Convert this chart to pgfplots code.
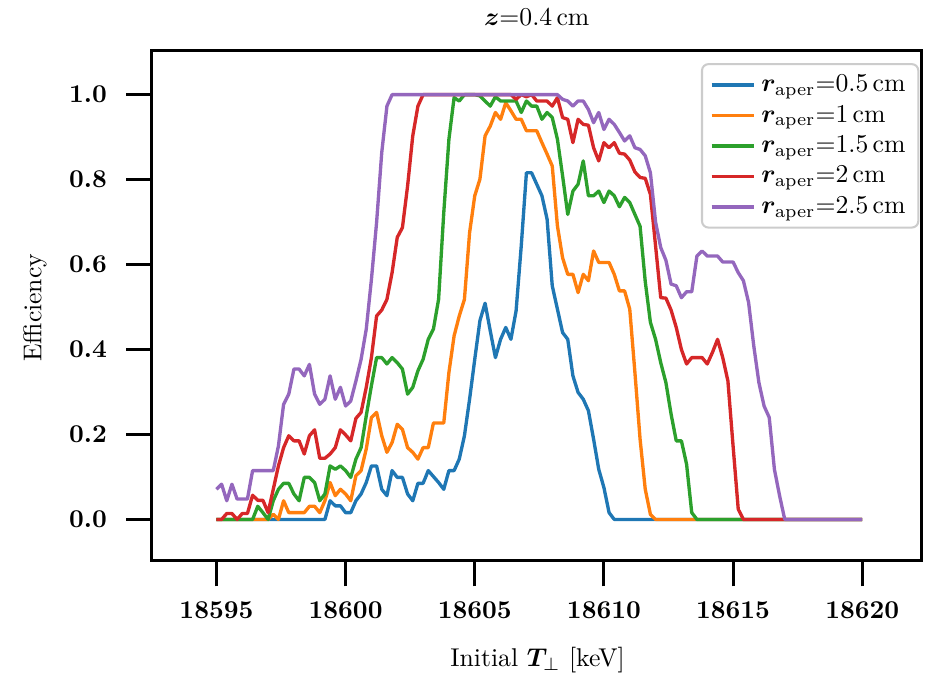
\documentclass[border=0pt]{standalone}
\usepackage{pgfplots}
\pgfplotsset{compat=1.18}
\usepackage{bm}
\definecolor{c0}{HTML}{1F77B4}
\definecolor{c1}{HTML}{FF7F0E}
\definecolor{c2}{HTML}{2CA02C}
\definecolor{c3}{HTML}{D62728}
\definecolor{c4}{HTML}{9467BD}
\begin{document}
\begin{tikzpicture}
\begin{axis}[
  scale only axis, width=299.6pt, height=198.4pt,
  xmin=18592.5, xmax=18622.3, ymin=-0.097, ymax=1.103,
  xtick={18595,18600,18605,18610,18615,18620},
  ytick={0,0.2,0.4,0.6,0.8,1},
  scaled x ticks=false,
  xtick pos=bottom, ytick pos=left,
  tick align=outside, major tick length=10pt,
  tick style={line width=1.2pt, black},
  major tick style={line width=1.2pt, black},
  axis line style={line width=1.2pt},
  ticklabel style={font=\bfseries, /pgf/number format/assume math mode=true},
  x tick label style={/pgf/number format/1000 sep={}, yshift=-2.3pt},
  y tick label style={/pgf/number format/fixed, /pgf/number format/fixed zerofill, /pgf/number format/precision=1, xshift=-4pt},
  title={$\bm{z}$=0.4\,cm},
  title style={at={(axis description cs:0.5,1)}, anchor=base, yshift=3.7pt},
  xlabel={Initial $\bm{T}_{\perp}$ [keV]},
  xlabel style={at={(axis description cs:0.501,-0.196)}, anchor=center},
  ylabel={Efficiency},
  ylabel style={at={(axis description cs:-0.152,0.496)}, anchor=center},
  legend cell align=left,
  legend style={at={(0.997,0.976)}, anchor=north east, draw=black!20, line width=0.8pt,
    rounded corners=2.5pt, fill=white, inner xsep=3pt, inner ysep=2pt, row sep=-0.3pt},
  legend image code/.code={\draw[#1,line width=1.4pt] (0pt,0pt) -- (16.7pt,0pt);},
  every axis plot/.append style={line width=1.3pt, line join=round},
]
\coordinate (bl) at (rel axis cs:0,0);
\addplot[c0] table {
18595.0 0
18599.2 0
18599.4 0.044
18599.6 0.032
18599.8 0.032
18600.0 0.016
18600.2 0.016
18600.4 0.044
18600.6 0.060
18600.8 0.087
18601.0 0.126
18601.2 0.126
18601.4 0.071
18601.6 0.056
18601.8 0.115
18602.0 0.099
18602.2 0.099
18602.4 0.060
18602.6 0.044
18602.8 0.085
18603.0 0.085
18603.2 0.115
18603.4 0.101
18603.6 0.087
18603.8 0.071
18604.0 0.115
18604.2 0.115
18604.4 0.142
18604.6 0.197
18604.8 0.283
18605.0 0.377
18605.2 0.468
18605.4 0.509
18605.6 0.444
18605.8 0.381
18606.0 0.424
18606.2 0.452
18606.4 0.424
18606.6 0.491
18606.8 0.644
18607.0 0.816
18607.2 0.816
18607.4 0.789
18607.6 0.762
18607.8 0.707
18608.0 0.550
18608.2 0.495
18608.4 0.440
18608.6 0.424
18608.8 0.338
18609.0 0.299
18609.2 0.283
18609.4 0.256
18609.6 0.189
18609.8 0.118
18610.0 0.075
18610.2 0.016
18610.4 0
18620.0 0
};
\addlegendentry{$\bm{r}_{\mathrm{aper}}$=0.5\,cm}
\addplot[c1] table {
18595.0 0
18597.0 0
18597.2 0.012
18597.4 0
18597.6 0.044
18597.8 0.016
18598.0 0.016
18598.2 0.016
18598.4 0.016
18598.6 0.031
18598.8 0.031
18599.0 0.016
18599.2 0.044
18599.4 0.087
18599.6 0.056
18599.8 0.071
18600.0 0.060
18600.2 0.044
18600.4 0.103
18600.6 0.115
18600.8 0.166
18601.0 0.240
18601.2 0.252
18601.4 0.197
18601.6 0.158
18601.8 0.181
18602.0 0.224
18602.2 0.212
18602.4 0.169
18602.6 0.158
18602.8 0.142
18603.0 0.169
18603.2 0.169
18603.4 0.227
18603.6 0.227
18603.8 0.227
18604.0 0.346
18604.2 0.432
18604.4 0.479
18604.6 0.518
18604.8 0.675
18605.0 0.762
18605.2 0.801
18605.4 0.903
18605.6 0.926
18605.8 0.958
18606.0 0.942
18606.2 0.981
18606.4 0.962
18606.6 0.942
18606.8 0.942
18607.0 0.915
18607.2 0.915
18607.4 0.915
18607.6 0.887
18607.8 0.860
18608.0 0.832
18608.2 0.691
18608.4 0.616
18608.6 0.577
18608.8 0.577
18609.0 0.534
18609.2 0.577
18609.4 0.562
18609.6 0.632
18609.8 0.605
18610.0 0.605
18610.2 0.605
18610.4 0.577
18610.6 0.538
18610.8 0.538
18611.0 0.495
18611.2 0.346
18611.4 0.189
18611.6 0.071
18611.8 0.012
18612.0 0
18620.0 0
};
\addlegendentry{$\bm{r}_{\mathrm{aper}}$=1\,cm}
\addplot[c2] table {
18595.0 0
18596.4 0
18596.6 0.031
18596.8 0.016
18597.0 0
18597.2 0.044
18597.4 0.071
18597.6 0.085
18597.8 0.085
18598.0 0.060
18598.2 0.044
18598.4 0.099
18598.6 0.099
18598.8 0.087
18599.0 0.044
18599.2 0.060
18599.4 0.126
18599.6 0.118
18599.8 0.126
18600.0 0.115
18600.2 0.099
18600.4 0.142
18600.6 0.169
18600.8 0.244
18601.0 0.315
18601.2 0.381
18601.4 0.381
18601.6 0.366
18601.8 0.381
18602.0 0.369
18602.2 0.354
18602.4 0.295
18602.6 0.311
18602.8 0.350
18603.0 0.377
18603.2 0.424
18603.4 0.448
18603.6 0.518
18603.8 0.722
18604.0 0.895
18604.2 0.993
18604.4 0.985
18604.6 1.0
18605.0 1.0
18605.2 0.997
18605.4 0.985
18605.6 0.973
18605.8 0.995
18606.0 0.985
18606.2 0.985
18606.4 0.985
18606.6 0.985
18606.8 0.958
18607.0 0.985
18607.2 0.973
18607.4 0.973
18607.6 0.942
18607.8 0.958
18608.0 0.946
18608.2 0.895
18608.4 0.809
18608.6 0.718
18608.8 0.773
18609.0 0.789
18609.2 0.844
18609.4 0.762
18609.6 0.762
18609.8 0.773
18610.0 0.746
18610.2 0.773
18610.4 0.762
18610.6 0.736
18610.8 0.758
18611.0 0.746
18611.2 0.718
18611.4 0.690
18611.6 0.560
18611.8 0.464
18612.0 0.424
18612.2 0.369
18612.4 0.322
18612.6 0.248
18612.8 0.185
18613.0 0.185
18613.2 0.130
18613.4 0.016
18613.6 0
18620.0 0
};
\addlegendentry{$\bm{r}_{\mathrm{aper}}$=1.5\,cm}
\addplot[c3] table {
18595.0 0
18595.2 0
18595.4 0.014
18595.6 0.014
18595.8 0
18596.0 0.014
18596.2 0.014
18596.4 0.057
18596.6 0.045
18596.8 0.045
18597.0 0.016
18597.2 0.071
18597.4 0.126
18597.6 0.169
18597.8 0.197
18598.0 0.185
18598.2 0.185
18598.4 0.154
18598.6 0.197
18598.8 0.211
18599.0 0.144
18599.2 0.144
18599.4 0.154
18599.6 0.169
18599.8 0.211
18600.0 0.199
18600.2 0.185
18600.4 0.238
18600.6 0.252
18600.8 0.311
18601.0 0.381
18601.2 0.479
18601.4 0.493
18601.6 0.518
18601.8 0.581
18602.0 0.664
18602.2 0.687
18602.4 0.785
18602.6 0.903
18602.8 0.973
18603.0 1.0
18606.4 1.0
18606.6 0.989
18606.8 1.0
18607.0 0.995
18607.2 1.0
18607.4 0.985
18607.6 0.985
18607.8 0.985
18608.0 0.973
18608.2 0.993
18608.4 0.946
18608.6 0.942
18608.8 0.887
18609.0 0.942
18609.2 0.930
18609.4 0.928
18609.6 0.875
18609.8 0.844
18610.0 0.887
18610.2 0.875
18610.4 0.887
18610.6 0.862
18610.8 0.860
18611.0 0.846
18611.2 0.818
18611.4 0.805
18611.6 0.803
18611.8 0.765
18612.0 0.644
18612.2 0.522
18612.4 0.521
18612.6 0.493
18612.8 0.452
18613.0 0.400
18613.2 0.366
18613.4 0.381
18613.6 0.381
18613.8 0.381
18614.0 0.366
18614.2 0.393
18614.4 0.424
18614.6 0.381
18614.8 0.326
18615.0 0.173
18615.2 0.024
18615.4 0
18620.0 0
};
\addlegendentry{$\bm{r}_{\mathrm{aper}}$=2\,cm}
\addplot[c4] table {
18595.0 0.071
18595.2 0.083
18595.4 0.044
18595.6 0.083
18595.8 0.048
18596.0 0.048
18596.2 0.048
18596.4 0.115
18597.2 0.115
18597.4 0.173
18597.6 0.271
18597.8 0.295
18598.0 0.354
18598.2 0.354
18598.4 0.338
18598.6 0.365
18598.8 0.295
18599.0 0.271
18599.2 0.283
18599.4 0.338
18599.6 0.283
18599.8 0.311
18600.0 0.267
18600.2 0.279
18600.4 0.326
18600.6 0.377
18600.8 0.448
18601.0 0.565
18601.2 0.699
18601.4 0.864
18601.6 0.973
18601.8 1.0
18608.2 1.0
18608.4 0.989
18608.6 0.985
18608.8 0.973
18609.0 0.985
18609.2 0.985
18609.4 0.965
18609.6 0.934
18609.8 0.958
18610.0 0.918
18610.2 0.942
18610.4 0.930
18610.6 0.911
18610.8 0.891
18611.0 0.903
18611.2 0.875
18611.4 0.871
18611.6 0.856
18611.8 0.816
18612.0 0.700
18612.2 0.640
18612.4 0.610
18612.6 0.554
18612.8 0.550
18613.0 0.522
18613.2 0.536
18613.4 0.536
18613.6 0.620
18613.8 0.632
18614.0 0.620
18614.4 0.620
18614.6 0.606
18615.0 0.606
18615.2 0.581
18615.4 0.562
18615.6 0.511
18615.8 0.409
18616.0 0.322
18616.2 0.267
18616.4 0.240
18616.6 0.118
18616.8 0.056
18617.0 0
18620.0 0
};
\addlegendentry{$\bm{r}_{\mathrm{aper}}$=2.5\,cm}
\end{axis}
\path ([shift={(-59.1pt,-45.1pt)}]bl) rectangle ++(360pt,262.3pt);
\end{tikzpicture}
\end{document}
